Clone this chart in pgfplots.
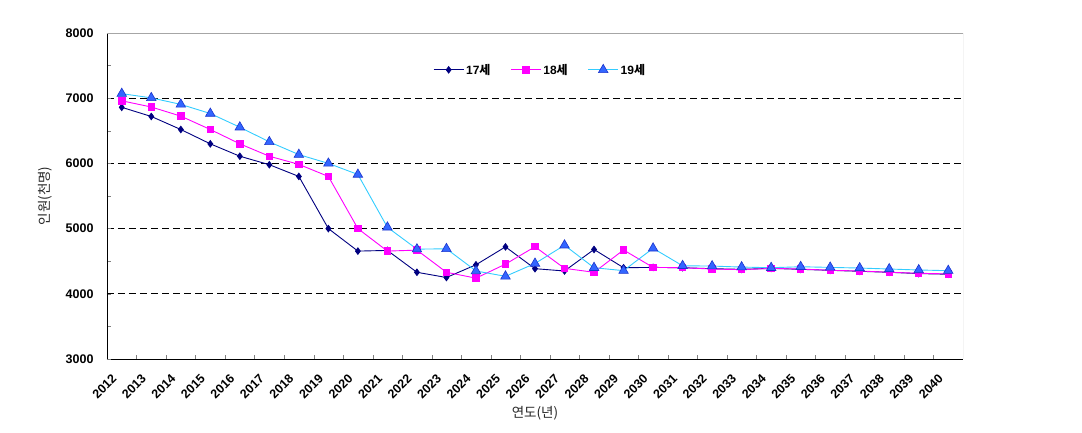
\documentclass[border=0pt]{standalone}
\usepackage{pgfplots}
\pgfplotsset{compat=1.18}
\usepackage{fontspec}
\setmainfont{Liberation Sans}
\newfontfamily\kr{Noto Sans CJK KR}
\definecolor{c17}{HTML}{000080}
\definecolor{c18}{HTML}{FF00FF}
\definecolor{c19}{HTML}{33CCFF}
\definecolor{t19}{HTML}{3366FF}
\definecolor{t19e}{HTML}{1A33CC}
\begin{document}
\begin{tikzpicture}
\path[use as bounding box] (0,0) rectangle (1082pt,433pt);
\begin{axis}[
  at={(107pt,74pt)}, anchor=south west,
  width=856pt, height=326pt, scale only axis,
  xmin=-0.5, xmax=28.5, ymin=3000, ymax=8000,
  axis x line*=bottom, axis y line*=left,
  x axis line style={-}, y axis line style={-},
  tick pos=left, tick align=inside,
  xtick={0,...,28},
  xticklabels={2012,2013,2014,2015,2016,2017,2018,2019,2020,2021,2022,2023,2024,2025,2026,2027,2028,2029,2030,2031,2032,2033,2034,2035,2036,2037,2038,2039,2040},
  major x tick style={draw=none},
  minor xtick={0.5,1.5,...,27.5},
  minor tick length=4pt, major tick length=4pt,
  ytick={4000,5000,6000,7000},
  extra y ticks={3000,8000},
  extra y tick style={grid=none},
  minor ytick={3500,4500,5500,6500,7500},
  ymajorgrids=true,
  major grid style={black, dash pattern=on 7pt off 4pt, line width=0.8pt},
  /pgf/number format/1000 sep={},
  /pgf/number format/assume math mode=true,
  yticklabel style={font=\fontsize{12.5}{14}\selectfont\bfseries, xshift=-10pt},
  xticklabel style={font=\fontsize{12.5}{14}\selectfont\bfseries, xshift=-5pt, yshift=-15pt, rotate=45, anchor=east},
  xlabel={\kr 연도(년)},
  ylabel={\kr 인원(천명)},
  xlabel style={at={(axis description cs:0.5,-0.166)}, anchor=center, font=\fontsize{13.5}{15}\selectfont, color=black!85},
  ylabel style={at={(axis description cs:-0.0724,0.5)}, anchor=center, font=\fontsize{13.5}{15}\selectfont, color=black!85},
  legend style={at={(rel axis cs:0.506,0.887)}, anchor=center, draw=none, fill=none,
    font=\fontsize{12}{14}\selectfont\bfseries,
    /tikz/every even column/.append style={column sep=18pt}},
  legend columns=3,
  legend image code/.code={\draw[mark repeat=2,mark phase=2,#1] plot coordinates {(0pt,0pt)(15pt,0pt)(30pt,0pt)};},
]
\addplot[c17, line width=0.9pt, mark=diamond*, mark size=3.2pt, mark options={fill=c17, draw=c17}] coordinates {
(0,6860)(1,6720)(2,6520)(3,6300)(4,6110)(5,5980)(6,5800)(7,5000)(8,4655)(9,4665)
(10,4330)(11,4250)(12,4445)(13,4720)(14,4385)(15,4350)(16,4680)(17,4400)(18,4405)(19,4400)
(20,4385)(21,4375)(22,4390)(23,4375)(24,4360)(25,4345)(26,4330)(27,4310)(28,4300)};
\addlegendentry{17{\kr 세}}
\addplot[c18, line width=0.9pt, mark=square*, mark size=3.2pt, mark options={fill=c18, draw=c18}] coordinates {
(0,6960)(1,6865)(2,6725)(3,6520)(4,6300)(5,6110)(6,5985)(7,5800)(8,5000)(9,4655)
(10,4670)(11,4330)(12,4240)(13,4455)(14,4722)(15,4390)(16,4330)(17,4672)(18,4405)(19,4400)
(20,4380)(21,4370)(22,4390)(23,4380)(24,4360)(25,4350)(26,4330)(27,4315)(28,4305)};
\addlegendentry{18{\kr 세}}
\addplot[c19, line width=0.9pt, mark=triangle*, mark size=5.5pt, mark options={fill=t19, draw=t19e, line width=0.6pt}] coordinates {
(0,7070)(1,7005)(2,6905)(3,6765)(4,6555)(5,6330)(6,6135)(7,6000)(8,5830)(9,5020)
(10,4685)(11,4690)(12,4350)(13,4268)(14,4465)(15,4745)(16,4400)(17,4355)(18,4698)(19,4430)
(20,4425)(21,4410)(22,4400)(23,4415)(24,4405)(25,4395)(26,4380)(27,4365)(28,4355)};
\addlegendentry{19{\kr 세}}
\draw[gray!70, line width=0.8pt] (rel axis cs:0,1) -- (rel axis cs:1,1) -- (rel axis cs:1,0);
\end{axis}
\end{tikzpicture}
\end{document}
